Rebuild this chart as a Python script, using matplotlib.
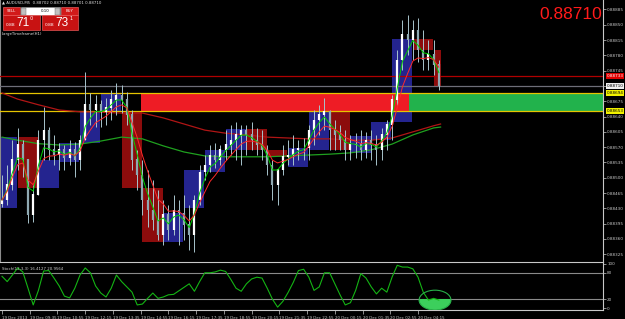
import matplotlib
matplotlib.use("Agg")
import matplotlib.pyplot as plt
import matplotlib.patches as patches
import matplotlib.transforms as mtransforms
import pandas as pd

# ---- M15 bars, 19 Dec 2013 08:15 -> 20 Dec 05:15 ----
bar_start = "2013-12-19 08:15"
first_open = 0.88440
bar_high = [0.88506, 0.88529, 0.88586, 0.88614, 0.88586, 0.88495, 0.88484, 0.88609, 0.88662, 0.88616,
            0.88598, 0.88580, 0.88575, 0.88586, 0.88582, 0.88598, 0.88742, 0.88694, 0.88689, 0.88678,
            0.88683, 0.88701, 0.88717, 0.88712, 0.88696, 0.88655, 0.88564, 0.88541, 0.88518, 0.88495,
            0.88472, 0.88449, 0.88438, 0.88461, 0.88449, 0.88461, 0.88438, 0.88461, 0.88529, 0.88552,
            0.88575, 0.88580, 0.88575, 0.88609, 0.88621, 0.88628, 0.88621, 0.88621, 0.88628, 0.88614,
            0.88609, 0.88575, 0.88541, 0.88506, 0.88575, 0.88586, 0.88598, 0.88586, 0.88591, 0.88621,
            0.88655, 0.88667, 0.88683, 0.88655, 0.88632, 0.88621, 0.88609, 0.88598, 0.88602, 0.88609,
            0.88605, 0.88609, 0.88598, 0.88614, 0.88632, 0.88689, 0.88792, 0.88861, 0.88872, 0.88861,
            0.88866, 0.88838, 0.88815, 0.88815, 0.88769]
bar_low = [0.88433, 0.88438, 0.88472, 0.88518, 0.88502, 0.88397, 0.88399, 0.88461, 0.88541, 0.88541,
           0.88529, 0.88518, 0.88518, 0.88529, 0.88502, 0.88518, 0.88586, 0.88621, 0.88616, 0.88616,
           0.88621, 0.88632, 0.88644, 0.88648, 0.88621, 0.88518, 0.88472, 0.88415, 0.88387, 0.88381,
           0.88358, 0.88346, 0.88358, 0.88369, 0.88346, 0.88358, 0.88335, 0.88330, 0.88438, 0.88495,
           0.88513, 0.88522, 0.88529, 0.88541, 0.88552, 0.88541, 0.88529, 0.88552, 0.88564, 0.88552,
           0.88541, 0.88506, 0.88449, 0.88438, 0.88506, 0.88529, 0.88529, 0.88541, 0.88541, 0.88541,
           0.88575, 0.88598, 0.88609, 0.88564, 0.88564, 0.88564, 0.88541, 0.88541, 0.88545, 0.88541,
           0.88545, 0.88541, 0.88529, 0.88541, 0.88564, 0.88586, 0.88667, 0.88747, 0.88781, 0.88769,
           0.88765, 0.88747, 0.88747, 0.88735, 0.88701]
bar_close = [0.88449, 0.88484, 0.88541, 0.88575, 0.88541, 0.88415, 0.88461, 0.88586, 0.88609, 0.88564,
             0.88552, 0.88564, 0.88545, 0.88564, 0.88541, 0.88586, 0.88667, 0.88655, 0.88667, 0.88651,
             0.88660, 0.88678, 0.88689, 0.88678, 0.88644, 0.88541, 0.88506, 0.88449, 0.88426, 0.88403,
             0.88369, 0.88415, 0.88381, 0.88426, 0.88419, 0.88392, 0.88369, 0.88449, 0.88513, 0.88529,
             0.88552, 0.88541, 0.88564, 0.88575, 0.88586, 0.88598, 0.88609, 0.88598, 0.88586, 0.88575,
             0.88564, 0.88529, 0.88484, 0.88518, 0.88548, 0.88552, 0.88564, 0.88568, 0.88568, 0.88609,
             0.88632, 0.88644, 0.88651, 0.88609, 0.88598, 0.88586, 0.88564, 0.88575, 0.88575, 0.88564,
             0.88586, 0.88575, 0.88564, 0.88598, 0.88621, 0.88678, 0.88769, 0.88827, 0.88815, 0.88838,
             0.88792, 0.88769, 0.88781, 0.88758, 0.88710]

# ---- H1 boxes (LargeTimeframe(H1)) ----
h1_start = "2013-12-19 08:00"
h1_open = [0.88431, 0.88593, 0.88477, 0.88536, 0.88580, 0.88651, 0.88651, 0.88477, 0.88353, 0.88431,
           0.88513, 0.88564, 0.88612, 0.88564, 0.88525, 0.88564, 0.88651, 0.88557, 0.88586, 0.88628,
           0.88818, 0.88792]
h1_close = [0.88593, 0.88477, 0.88541, 0.88580, 0.88651, 0.88694, 0.88477, 0.88353, 0.88419, 0.88518,
            0.88564, 0.88612, 0.88564, 0.88548, 0.88568, 0.88655, 0.88564, 0.88596, 0.88628, 0.88818,
            0.88792, 0.88710]

# ---- slow moving averages, read once an hour ----
ma_times = (["2013-12-19 08:15"]
            + [t.strftime("%Y-%m-%d %H:%M")
               for t in pd.date_range("2013-12-19 09:00", "2013-12-20 05:00", freq="h")]
            + ["2013-12-20 05:20"])
ma_red = [0.88694, 0.88680, 0.88667, 0.88655, 0.88651, 0.88650, 0.88648, 0.88648, 0.88637, 0.88623,
          0.88609, 0.88602, 0.88598, 0.88593, 0.88591, 0.88589, 0.88589, 0.88586, 0.88586, 0.88591,
          0.88605, 0.88619, 0.88623]
ma_green = [0.88593, 0.88586, 0.88578, 0.88575, 0.88577, 0.88584, 0.88593, 0.88589, 0.88573, 0.88559,
            0.88550, 0.88548, 0.88548, 0.88548, 0.88550, 0.88552, 0.88554, 0.88557, 0.88564, 0.88577,
            0.88598, 0.88614, 0.88616]

# ---- stochastic (12,3,3), one value per M15 bar ----
stoch = [72, 60, 75, 91, 82, 45, 7, 40, 84, 85,
         68, 50, 27, 23, 45, 75, 91, 80, 50, 34,
         25, 45, 75, 60, 48, 36, 7, 9, 22, 34,
         22, 25, 30, 31, 39, 47, 55, 38, 60, 80,
         80, 82, 86, 83, 65, 45, 38, 55, 66, 70,
         68, 45, 20, 2, 15, 35, 58, 85, 88, 70,
         40, 48, 80, 80, 55, 30, 7, 12, 40, 78,
         68, 48, 32, 45, 36, 70, 97, 93, 93, 89,
         70, 36, 18, 22, 18]

# ---- levels / zone ----
zone_top = 0.88694
zone_bottom = 0.88653
zone_start = "2013-12-19 14:55"
zone_flip = "2013-12-20 03:50"
red_level = 0.88733
bid = 0.88710

price_ticks = [0.88885, 0.88850, 0.88815, 0.88780, 0.88745, 0.88710, 0.88675, 0.88640, 0.88605,
               0.88570, 0.88535, 0.88500, 0.88465, 0.88430, 0.88395, 0.88360, 0.88325]
time_labels = ["19 Dec 2013", "19 Dec 09:35", "19 Dec 10:55", "19 Dec 12:15", "19 Dec 13:35",
               "19 Dec 14:55", "19 Dec 16:15", "19 Dec 17:35", "19 Dec 18:55", "19 Dec 20:15",
               "19 Dec 21:35", "19 Dec 22:55", "20 Dec 00:15", "20 Dec 01:35", "20 Dec 02:55",
               "20 Dec 04:15"]
time_ticks = pd.date_range("2013-12-19 08:15", periods=len(time_labels), freq="80min")

t0 = pd.Timestamp(bar_start)


def minutes(ts):
    ts = pd.to_datetime(ts, format="mixed") if isinstance(ts, list) else pd.to_datetime(ts)
    return (ts - t0) / pd.Timedelta(minutes=1)


bar_t = minutes(pd.date_range(bar_start, periods=len(bar_close), freq="15min"))
h1_t = minutes(pd.date_range(h1_start, periods=len(h1_open), freq="h"))
ma_t = minutes(ma_times)
bar_open = [first_open] + bar_close[:-1]
last_t = bar_t[-1] + 5

BG = "black"
AXC = "#c8c8c8"
fig = plt.figure(figsize=(6.25, 3.19), dpi=100, facecolor=BG)

# main price panel: pixels x 0..603, y 0..262
ax = fig.add_axes([0, 57 / 319, 603 / 625, 262 / 319], facecolor=BG)
ax2 = fig.add_axes([0, 9 / 319, 603 / 625, 48 / 319], facecolor=BG, sharex=ax)
ax.set_xlim(-5.8, 1733.5)
ax.set_ylim(0.883073, 0.889067)

# H1 boxes
for t, o, c in zip(h1_t, h1_open, h1_close):
    x0 = max(t, -3)
    x1 = min(t + 58, last_t)
    col = "#24248f" if c >= o else "#8c0c0c"
    ax.add_patch(patches.Rectangle((x0, min(o, c)), x1 - x0, abs(c - o),
                                   facecolor=col, edgecolor="none", zorder=1))

# supply / demand zone
zs, zf = minutes(zone_start), minutes(zone_flip)
ax.add_patch(patches.Rectangle((zs, zone_bottom), zf - zs, zone_top - zone_bottom,
                               facecolor="#ee1c25", edgecolor="none", zorder=2))
ax.add_patch(patches.Rectangle((zf, zone_bottom), 2000, zone_top - zone_bottom,
                               facecolor="#22b24c", edgecolor="none", zorder=2))
for lv in (zone_top, zone_bottom):
    ax.axhline(lv, color="#e6c400", lw=0.9, zorder=3)
ax.axhline(red_level, color="#b00000", lw=0.9, zorder=3)
ax.axhline(bid, color="#6e6e78", lw=0.9, zorder=3)

# slow averages
ax.plot(ma_t, ma_red, color="#b01515", lw=0.9, zorder=3)
ax.plot(ma_t, ma_green, color="#1fa01f", lw=0.9, zorder=3)

# price bars
ax.vlines(bar_t, bar_low, bar_high, color="#a8c4cc", lw=0.7, zorder=4)
for t, o, c in zip(bar_t, bar_open, bar_close):
    col = "#ffffff" if c >= o else "#8fa9b2"
    ax.vlines(t, min(o, c), max(o, c) + 0.000012, color=col, lw=1.6, zorder=4)

# fast averages
closes = pd.Series(bar_close)
ax.plot(bar_t, closes.ewm(span=3).mean(), color="#00d000", lw=0.7, zorder=5)
ax.plot(bar_t, closes.ewm(span=6).mean(), color="#ff2a2a", lw=0.7, zorder=5)

# right price scale
ax.yaxis.tick_right()
ax.set_yticks(price_ticks)
ax.set_yticklabels(["%.5f" % v for v in price_ticks])
ax.tick_params(axis="y", colors=AXC, labelsize=3, length=2, width=0.5, pad=1)
ax.tick_params(axis="x", bottom=False, labelbottom=False)
for s in ("top", "bottom"):
    ax.spines[s].set_visible(False)
ax.spines["left"].set_color("#8c8c8c")
ax.spines["left"].set_linewidth(0.8)
ax.spines["right"].set_color(AXC)
ax.spines["right"].set_linewidth(0.8)

trans = mtransforms.blended_transform_factory(ax.transAxes, ax.transData)
for lv, fc, tc in [(red_level, "#e00000", "white"), (bid, "#f0f0f0", "black"),
                   (zone_top, "#f0f000", "black"), (zone_bottom, "#f0f000", "black")]:
    ax.text(1.006, lv, "%.5f" % lv, transform=trans, fontsize=3, color=tc, ha="left",
            va="center", clip_on=False, zorder=10,
            bbox=dict(boxstyle="square,pad=0.2", facecolor=fc, edgecolor="none"))

ax.text(0.999, 0.972, "0.88710", transform=ax.transAxes, ha="right", va="top",
        fontsize=12.5, color="#ff1a1a", family="Liberation Sans")

# stochastic panel
ax2.set_ylim(-4.5, 104.5)
ax2.plot(bar_t, stoch, color="#14b414", lw=0.8, zorder=3)
ax2.axhline(80, color="#8a8a8a", lw=0.8)
ax2.axhline(20, color="#8a8a8a", lw=0.8)
ax2.yaxis.tick_right()
ax2.set_yticks([0, 20, 80, 100])
ax2.set_yticklabels(["0", "20", "80", "100"])
ax2.tick_params(axis="y", colors=AXC, labelsize=3, length=2, width=0.5, pad=1)
ax2.set_xticks(minutes(time_ticks))
ax2.set_xticklabels(time_labels, ha="left")
ax2.tick_params(axis="x", colors=AXC, labelsize=2.9, length=3, width=0.5, pad=1)
ax2.spines["left"].set_visible(False)
for s in ("top", "right", "bottom"):
    ax2.spines[s].set_color(AXC)
    ax2.spines[s].set_linewidth(0.8)
ax2.text(0.003, 0.9, "Stoch(12,3,3) 16.4127 20.9564", transform=ax2.transAxes,
         fontsize=2.8, color="#d0d0d0", va="top", ha="left")

# marked oversold area
cx, cy = 1249, 18
blob = patches.Ellipse((cx, cy), 92, 45, facecolor="#3ccf5c", edgecolor="none", zorder=2)
ax2.add_patch(blob)
clip = patches.Rectangle((cx - 60, -20), 120, 40.5, transform=ax2.transData)
blob.set_clip_path(clip)
ax2.add_patch(patches.Ellipse((cx, cy), 92, 45, facecolor="none", edgecolor="#28b048",
                              lw=0.8, zorder=4))

# trade panel overlay (pixel coordinates)
ov = fig.add_axes([0, 0, 1, 1], zorder=20)
ov.set_xlim(0, 625)
ov.set_ylim(319, 0)
ov.axis("off")
ov.patch.set_visible(False)
ov.text(2, 3, "\u25b2 AUDUSD,M5  0.88702 0.88710 0.88701 0.88710", fontsize=2.8,
        color="#e0e0e0", va="center", ha="left")
ov.add_patch(patches.Rectangle((3, 7), 17, 8, facecolor="#d21a1a", edgecolor="#ff7070", lw=0.4))
ov.text(11.5, 11, "SELL", fontsize=2.8, color="white", ha="center", va="center")
ov.add_patch(patches.Rectangle((21, 7), 39, 8, facecolor="white", edgecolor="#909090", lw=0.4))
ov.add_patch(patches.Rectangle((21, 7.5), 5, 7, facecolor="#c0c0c0", edgecolor="#606060", lw=0.3))
ov.add_patch(patches.Rectangle((55, 7.5), 5, 7, facecolor="#c0c0c0", edgecolor="#606060", lw=0.3))
ov.text(45, 11, "0.10", fontsize=2.8, color="black", ha="center", va="center")
ov.add_patch(patches.Rectangle((61, 7), 17, 8, facecolor="#d21a1a", edgecolor="#ff7070", lw=0.4))
ov.text(69.5, 11, "BUY", fontsize=2.8, color="white", ha="center", va="center")
for x0, w, big, sup in [(3, 37, "71", "0"), (42, 36, "73", "1")]:
    ov.add_patch(patches.Rectangle((x0, 15), w, 15, facecolor="#c81212",
                                   edgecolor="#ff6a6a", lw=0.4))
    ov.text(x0 + 3, 25.5, "0.88", fontsize=3.2, color="white", ha="left", va="center")
    ov.text(x0 + 13, 23.5, big, fontsize=8.5, color="white", ha="left", va="center",
            family="Liberation Sans")
    ov.text(x0 + 27, 19, sup, fontsize=3.6, color="white", ha="left", va="center")
ov.text(2, 34, "LargeTimeframe(H1)", fontsize=2.8, color="#e0e0e0", ha="left", va="center")

fig.savefig("out.png", dpi=100, facecolor=BG)
